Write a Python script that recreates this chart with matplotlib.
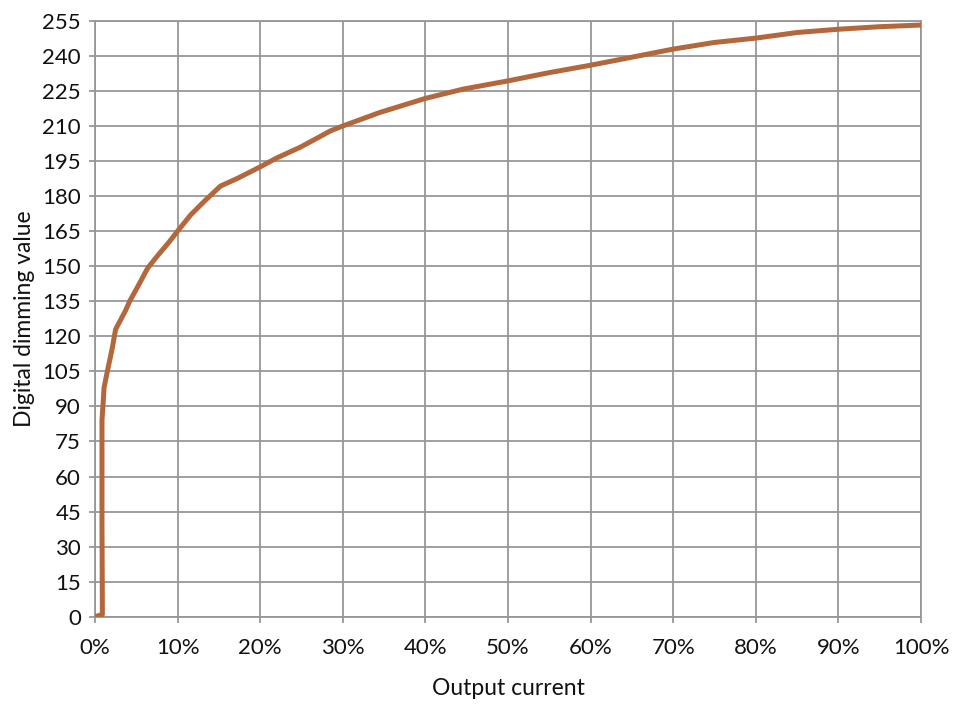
import matplotlib
matplotlib.use("Agg")
import matplotlib.pyplot as plt
from matplotlib.ticker import FuncFormatter

# values
output_current = [0, 0.9, 0.85, 0.85, 1.0, 1.1, 1.5, 2.1, 2.5, 3.1, 3.7, 4.2, 5.2, 6.4,
                  7.7, 8.9, 10, 11.6, 13.3, 15.2, 17.2, 20, 22, 24.9, 27, 28.5, 30, 34.5,
                  40, 44.6, 50, 55.1, 60, 64.8, 70, 74.9, 80, 85, 90, 95.1, 100]
dimming_value = [0, 1, 40, 84, 92, 98, 105, 115, 123, 127, 131, 135, 141.4, 149.3,
                 155, 160, 165, 172, 178, 184.3, 187.5, 192.5, 196.3, 201, 205, 207.9, 210, 215.8,
                 221.8, 225.8, 229.3, 232.9, 236, 239.3, 242.9, 245.7, 247.6, 250, 251.4, 252.5, 253.2]

x_ticks = list(range(0, 101, 10))
y_ticks = list(range(0, 256, 15))

plt.rcParams['font.family'] = ['Lato', 'DejaVu Sans']

fig = plt.figure(figsize=(9.65, 7.18), dpi=100)
ax = fig.add_axes([0.0984, 0.141, 0.856, 0.830])

grid_col = '#979797'
ax.plot(output_current, dimming_value, color='#B2683C', lw=3.6, solid_capstyle='round',
        solid_joinstyle='round', zorder=3)

ax.set_xlim(0, 100)
ax.set_ylim(0, 255)
ax.set_xticks(x_ticks)
ax.set_yticks(y_ticks)
ax.xaxis.set_major_formatter(FuncFormatter(lambda v, p: '{:d}%'.format(int(v))))
ax.grid(True, color=grid_col, lw=1.3)
for s in ax.spines.values():
    s.set_color(grid_col)
    s.set_linewidth(1.3)
ax.tick_params(axis='both', color=grid_col, width=1.3, length=4, labelsize=16,
               labelcolor='#111111')
ax.tick_params(axis='x', pad=11)
ax.tick_params(axis='y', pad=6)

ax.set_xlabel('Output current', fontsize=16.5, color='#111111', labelpad=15)
ax.set_ylabel('Digital dimming value', fontsize=16.5, color='#111111', labelpad=5)

fig.savefig('out.png', dpi=100)
